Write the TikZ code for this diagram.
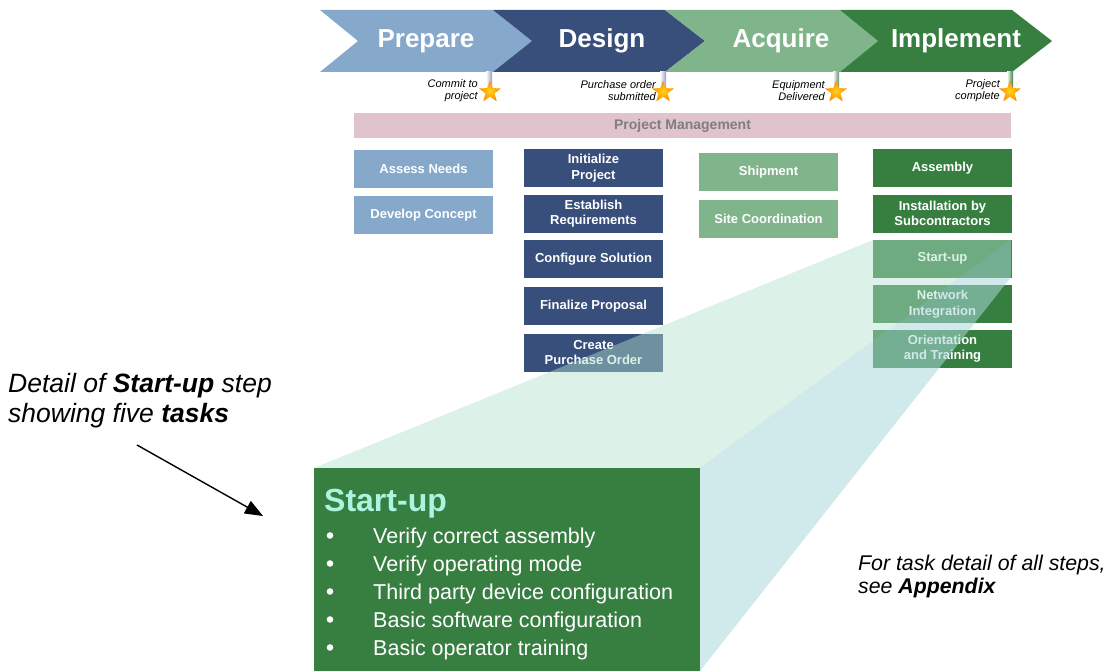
\documentclass[tikz,border=0pt]{standalone}
\usepackage{fontspec}
\setmainfont{Liberation Sans}
\usetikzlibrary{shapes.geometric,arrows.meta}
\definecolor{prep}{HTML}{86A8CB}
\definecolor{desn}{HTML}{394F7B}
\definecolor{acq}{HTML}{80B48A}
\definecolor{impl}{HTML}{377F41}
\definecolor{pmpink}{HTML}{E0C3CC}
\definecolor{pmtext}{HTML}{7F7F7F}
\definecolor{mintf}{HTML}{B2E2CD}
\definecolor{cyanf}{HTML}{A9D7D8}
\definecolor{titlecol}{HTML}{AAF4E0}
\definecolor{starin}{HTML}{FFD21A}
\definecolor{starout}{HTML}{FF8A00}
\begin{document}
\begin{tikzpicture}[x=1pt,y=-1pt,
  phase/.style={text=white,font=\fontsize{26}{26}\selectfont\bfseries,anchor=base,inner sep=0pt},
  task/.style={rectangle,minimum width=139pt,minimum height=38pt,inner sep=0pt,text=white,
    font=\fontsize{13}{15.5}\selectfont\bfseries,align=center},
  mlabel/.style={font=\fontsize{11}{12}\selectfont\itshape,align=right,anchor=east,inner sep=0pt},
  mstar/.style={star,star points=5,star point ratio=2.4,minimum size=23pt,inner sep=0pt,
    inner color=starin,outer color=starout},
  bul/.style={font=\fontsize{21.5}{21.5}\selectfont,text=white,anchor=base west,inner sep=0pt},
  note/.style={font=\fontsize{26.5}{30}\selectfont\itshape,anchor=base west,inner sep=0pt},
  note2/.style={font=\fontsize{21.3}{24}\selectfont\itshape,anchor=base west,inner sep=0pt}
]
\useasboundingbox (0,0) rectangle (1110,671);

% chevrons
\fill[prep] (320,10) -- (493,10) -- (532,41) -- (493,72) -- (320,72) -- (358,41) -- cycle;
\fill[desn] (493,10) -- (665,10) -- (705,41) -- (665,72) -- (493,72) -- (532,41) -- cycle;
\fill[acq] (665,10) -- (840,10) -- (878,41) -- (840,72) -- (665,72) -- (705,41) -- cycle;
\fill[impl] (840,10) -- (1012,10) -- (1052,41) -- (1012,72) -- (840,72) -- (878,41) -- cycle;
\node[phase] (pPrep) at (426,48) {Prepare};
\node[phase] (pDes) at (602,48) {Design};
\node[phase] (pAcq) at (781,48) {Acquire};
\node[phase] (pImp) at (956,48) {Implement};

% milestones
\shade[left color=white,right color=gray!70!blue!60] (486,72) rectangle (492,88);
\shade[left color=white,right color=gray!70!blue!60] (660,72) rectangle (666,88);
\shade[left color=white,right color=acq!80!black] (833,72) rectangle (839,88);
\shade[left color=white,right color=impl] (1007,72) rectangle (1013,88);
\node[mstar] (s1) at (490,92) {};
\node[mstar] (s2) at (663,92) {};
\node[mstar] (s3) at (836,92) {};
\node[mstar] (s4) at (1010,92) {};
\node[mlabel] (m1) at (478,91) {Commit to\\project};
\node[mlabel] (m2) at (656,91) {Purchase order\\submitted};
\node[mlabel] (m3) at (825,91) {Equipment\\Delivered};
\node[mlabel] (m4) at (1000,91) {Project\\complete};

% project management bar
\node[rectangle,fill=pmpink,minimum width=657pt,minimum height=25pt,inner sep=0pt,
  text=pmtext,font=\fontsize{14}{14}\selectfont\bfseries] (pm) at (682.5,125.5) {Project Management};

% task boxes
\node[task,fill=prep] (t11) at (423.5,169) {Assess Needs};
\node[task,fill=prep] (t12) at (423.5,215) {Develop Concept};
\node[task,fill=desn] (t21) at (593.5,168) {Initialize\\Project};
\node[task,fill=desn] (t22) at (593.5,213.5) {Establish\\Requirements};
\node[task,fill=desn] (t23) at (593.5,259) {Configure Solution};
\node[task,fill=desn] (t24) at (593.5,306) {Finalize Proposal};
\node[task,fill=desn] (t25) at (593.5,352.5) {Create\\Purchase Order};
\node[task,fill=acq] (t31) at (768.5,172) {Shipment};
\node[task,fill=acq] (t32) at (768.5,218.5) {Site Coordination};
\node[task,fill=impl] (t41) at (942.5,168) {Assembly};
\node[task,fill=impl] (t42) at (942.5,213.5) {Installation by\\Subcontractors};
\node[task,fill=impl] (t43) at (942.5,258.5) {Start-up};
\node[task,fill=impl] (t44) at (942.5,304) {Network\\Integration};
\node[task,fill=impl] (t45) at (942.5,348.5) {Orientation\\and Training};

% zoom wedge
\fill[mintf,fill opacity=0.45] (873,240) -- (1011,240) -- (700,468) -- (314,468) -- cycle;
\fill[cyanf,fill opacity=0.55] (1011,240) -- (1011,277) -- (700,671) -- (700,468) -- cycle;

% detail box
\node[rectangle,fill=impl,minimum width=386pt,minimum height=203pt,inner sep=0pt,anchor=north west] (detail) at (314,468) {};
\node[font=\fontsize{32}{32}\selectfont\bfseries,text=titlecol,anchor=base west,inner sep=0pt] (dtitle) at (324,511) {Start-up};
\foreach \y/\t [count=\i] in {543/Verify correct assembly,571/Verify operating mode,599/Third party device configuration,627/Basic software configuration,655/Basic operator training}{
  \fill[white] (330,\y-7.5) circle (3.3pt);
  \node[bul] (b\i) at (373,\y) {\t};
}

% annotations
\node[note] (n1) at (8,392) {Detail of \textbf{Start-up} step};
\node[note] (n2) at (8,422) {showing five \textbf{tasks}};
\coordinate (aS) at (137,445);
\coordinate (aE) at (263,516);
\draw[line width=1.4pt,-{Triangle[length=18pt,width=14pt]}] (aS) -- (aE);
\node[note2] (f1) at (858,570) {For task detail of all steps,};
\node[note2] (f2) at (858,593) {see \textbf{Appendix}};
\end{tikzpicture}
\end{document}
